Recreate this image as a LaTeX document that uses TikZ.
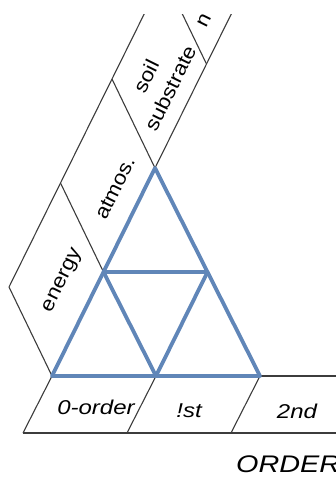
\documentclass[tikz,border=0pt]{standalone}
\usepackage{fontspec}
\setmainfont{Liberation Sans}
\definecolor{triblue}{RGB}{96,134,184}
\definecolor{linegray}{RGB}{60,60,60}
\tikzset{
  frame/.style={draw=linegray, line width=1.1pt},
  tri/.style={draw=triblue, line width=3.8pt, line join=round, line cap=round},
  banklabel/.style={font=\fontsize{20}{27}\selectfont, rotate=63.65, inner sep=0pt},
  ordlabel/.style={font=\fontsize{20}{24}\selectfont\itshape, inner sep=0pt},
}
\begin{document}
\begin{tikzpicture}[x=1pt, y=-1pt]
\useasboundingbox (0,0) rectangle (336,483);
\clip (0,14) rectangle (336,483);
% triangle points
\coordinate (A) at (52,376);
\coordinate (B) at (260,376);
\coordinate (C) at (155,168);
\coordinate (mL) at (103.5,272);
\coordinate (mR) at (207.5,272);
\coordinate (mB) at (156,376);
% left band
\coordinate (P3) at (206.5,64);
\coordinate (P4) at (258,-40);
\coordinate (Q0) at (9,287);
\coordinate (Q1) at (60.5,183);
\coordinate (Q2) at (112,79);
\coordinate (Q3) at (163.5,-25);
\coordinate (Q4) at (215,-129);
\draw[frame] (A) -- (P4);
\draw[frame] (Q0) -- (Q4);
\draw[frame] (A) -- (Q0);
\draw[frame] (mL) -- (Q1);
\draw[frame] (C) -- (Q2);
\draw[frame] (P3) -- (Q3);
% bottom band
\coordinate (Rend) at (336,376);
\coordinate (S0) at (23,433);
\coordinate (S1) at (127,433);
\coordinate (S2) at (231,433);
\coordinate (Send) at (336,433);
\draw[frame, line width=1.4pt] (A) -- (Rend);
\draw[frame] (S0) -- (Send);
\draw[frame] (A) -- (S0);
\draw[frame] (mB) -- (S1);
\draw[frame] (B) -- (S2);
% triangle
\draw[tri] (A) -- (B) -- (C) -- cycle;
\draw[tri] (mL) -- (mR) -- (mB) -- cycle;
% labels
\node[banklabel] (energy) at (63,281) {\scalebox{1.12}[1]{energy}};
\node[banklabel] (atmos) at (115,188) {\scalebox{1.12}[1]{atmos.}};
\node[banklabel, align=center] (soil) at (158,82) {\scalebox{1.12}[1]{soil}\\\scalebox{1.12}[1]{substrate}};
\node[banklabel] (nutr) at (204,21) {\scalebox{1.12}[1]{n}};
\node[ordlabel] (zero) at (96,407) {\scalebox{1.2}[1]{0-order}};
\node[ordlabel] (first) at (189,411) {\scalebox{1.2}[1]{!st}};
\node[ordlabel] (second) at (297,411) {\scalebox{1.2}[1]{2nd}};
\node[ordlabel, font=\fontsize{24}{28}\selectfont\itshape, anchor=base west] (order) at (236,472) {\scalebox{1.2}[1]{ORDER}};
\end{tikzpicture}
\end{document}
